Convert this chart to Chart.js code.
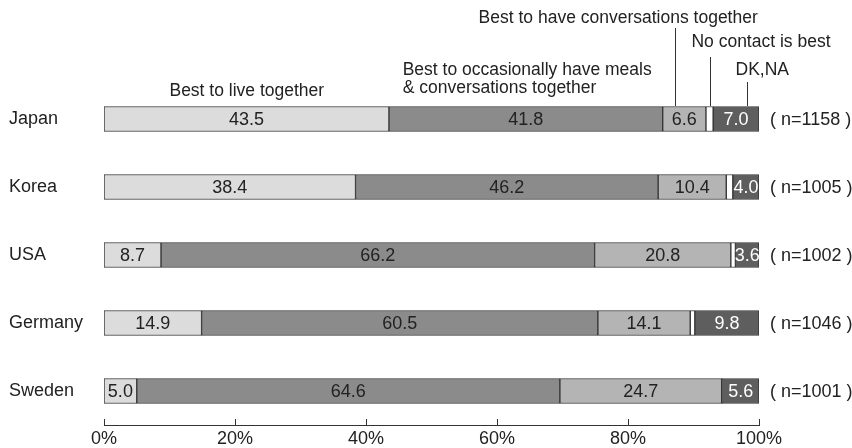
<!DOCTYPE html>
<html>
<head>
<meta charset="utf-8">
<script src="https://cdn.jsdelivr.net/npm/chart.js@4.4.0/dist/chart.umd.min.js"></script>
<style>
  html, body { margin: 0; padding: 0; background: #fff; }
</style>
</head>
<body>
<canvas id="myChart" width="852" height="448"></canvas>
<script>
// Survey answers by country (percent of respondents)
const countries = ['Japan', 'Korea', 'USA', 'Germany', 'Sweden'];
const sampleSizes = [1158, 1005, 1002, 1046, 1001];
const liveTogether = [43.5, 38.4, 8.7, 14.9, 5.0];
const mealsAndTalk = [41.8, 46.2, 66.2, 60.5, 64.6];
const talkOnly = [6.6, 10.4, 20.8, 14.1, 24.7];
const noContact = [1.1, 1.0, 0.7, 0.7, 0.1];
const dkNa = [7.0, 4.0, 3.6, 9.8, 5.6];
const xTicks = [0, 20, 40, 60, 80, 100];

const FAMILY = '"Liberation Sans", Arial, Helvetica, sans-serif';
const FONT = '18px ' + FAMILY;
const CAPTION_FONT = '17.5px ' + FAMILY;
const TEXT = '#222';
Chart.defaults.font.family = FAMILY;
Chart.defaults.font.size = 18;
Chart.defaults.color = TEXT;

// Series captions above the Japan bar; x is in percent on the x scale
const captions = [
    { text: 'Best to live together', x: 21.8, y: 91, align: 'center' },
    { text: 'Best to occasionally have meals', x: 45.6, y: 70, align: 'left' },
    { text: '& conversations together', x: 45.6, y: 88, align: 'left' },
    { text: 'Best to have conversations together', x: 78.5, y: 18, align: 'center' },
    { text: 'No contact is best', x: 100.3, y: 42, align: 'center' },
    { text: 'DK,NA', x: 100.5, y: 70, align: 'center' }
];
const leaders = [
    { x: 87.2, top: 28 },
    { x: 92.5, top: 57 },
    { x: 98.2, top: 82 }
];

// Numbers written inside the bar segments
const valueLabels = {
    id: 'valueLabels',
    afterDatasetsDraw(chart) {
        const ctx = chart.ctx;
        ctx.save();
        ctx.font = FONT;
        ctx.textAlign = 'center';
        ctx.textBaseline = 'middle';
        chart.data.datasets.forEach((ds, i) => {
            if (!ds.valueColor) return;
            chart.getDatasetMeta(i).data.forEach((bar, j) => {
                const p = bar.getProps(['x', 'base', 'y'], true);
                ctx.fillStyle = ds.valueColor;
                ctx.fillText(ds.data[j].toFixed(1), (p.x + p.base) / 2, p.y + 1);
            });
        });
        ctx.restore();
    }
};

// (n=...) on the right, captions with leader lines, and upward axis ticks
const extras = {
    id: 'extras',
    afterDraw(chart) {
        const ctx = chart.ctx;
        const xs = chart.scales.x;
        const ys = chart.scales.y;
        const area = chart.chartArea;
        ctx.save();
        ctx.font = FONT;
        ctx.fillStyle = TEXT;
        ctx.textBaseline = 'middle';

        ctx.textAlign = 'left';
        sampleSizes.forEach((n, j) => {
            ctx.fillText('( n=' + n + ' )', area.right + 11, ys.getPixelForValue(j) + 1);
        });

        ctx.font = CAPTION_FONT;
        captions.forEach(c => {
            ctx.textAlign = c.align;
            ctx.fillText(c.text, xs.getPixelForValue(c.x), c.y);
        });

        ctx.strokeStyle = '#333';
        ctx.lineWidth = 1;
        const barTop = ys.getPixelForValue(0) - 13;
        leaders.forEach(l => {
            const px = Math.round(xs.getPixelForValue(l.x)) + 0.5;
            ctx.beginPath();
            ctx.moveTo(px, l.top);
            ctx.lineTo(px, barTop);
            ctx.stroke();
        });

        xTicks.forEach(v => {
            const px = Math.round(xs.getPixelForValue(v)) + 0.5;
            ctx.beginPath();
            ctx.moveTo(px, area.bottom - 6);
            ctx.lineTo(px, area.bottom);
            ctx.stroke();
        });
        ctx.restore();
    }
};

function series(label, data, color, valueColor) {
    return {
        label: label,
        data: data,
        backgroundColor: color,
        borderColor: '#333',
        borderWidth: 1,
        borderSkipped: false,
        barThickness: 25,
        valueColor: valueColor
    };
}

const ctx = document.getElementById('myChart').getContext('2d');
new Chart(ctx, {
    type: 'bar',
    data: {
        labels: countries,
        datasets: [
            series('Best to live together', liveTogether, '#dcdcdc', TEXT),
            series('Best to occasionally have meals & conversations together', mealsAndTalk, '#8b8b8b', TEXT),
            series('Best to have conversations together', talkOnly, '#b4b4b4', TEXT),
            series('No contact is best', noContact, '#ffffff', null),
            series('DK,NA', dkNa, '#5e5e5e', '#ffffff')
        ]
    },
    options: {
        indexAxis: 'y',
        responsive: false,
        animation: false,
        layout: { padding: { left: 9, right: 93, top: 85, bottom: 0 } },
        plugins: {
            legend: { display: false },
            tooltip: { enabled: false }
        },
        scales: {
            x: {
                stacked: true,
                min: 0,
                max: 100,
                afterBuildTicks: scale => { scale.ticks = xTicks.map(v => ({ value: v })); },
                afterFit: scale => { scale.height = 23; },
                ticks: {
                    padding: 3,
                    maxRotation: 0,
                    callback: v => v + '%'
                },
                grid: { display: false, drawTicks: false },
                border: { display: true, color: '#333', width: 1 }
            },
            y: {
                stacked: true,
                afterFit: scale => { scale.width = 95; },
                ticks: { crossAlign: 'far', padding: 0 },
                grid: { display: false },
                border: { display: false }
            }
        }
    },
    plugins: [valueLabels, extras]
});
</script>
</body>
</html>
